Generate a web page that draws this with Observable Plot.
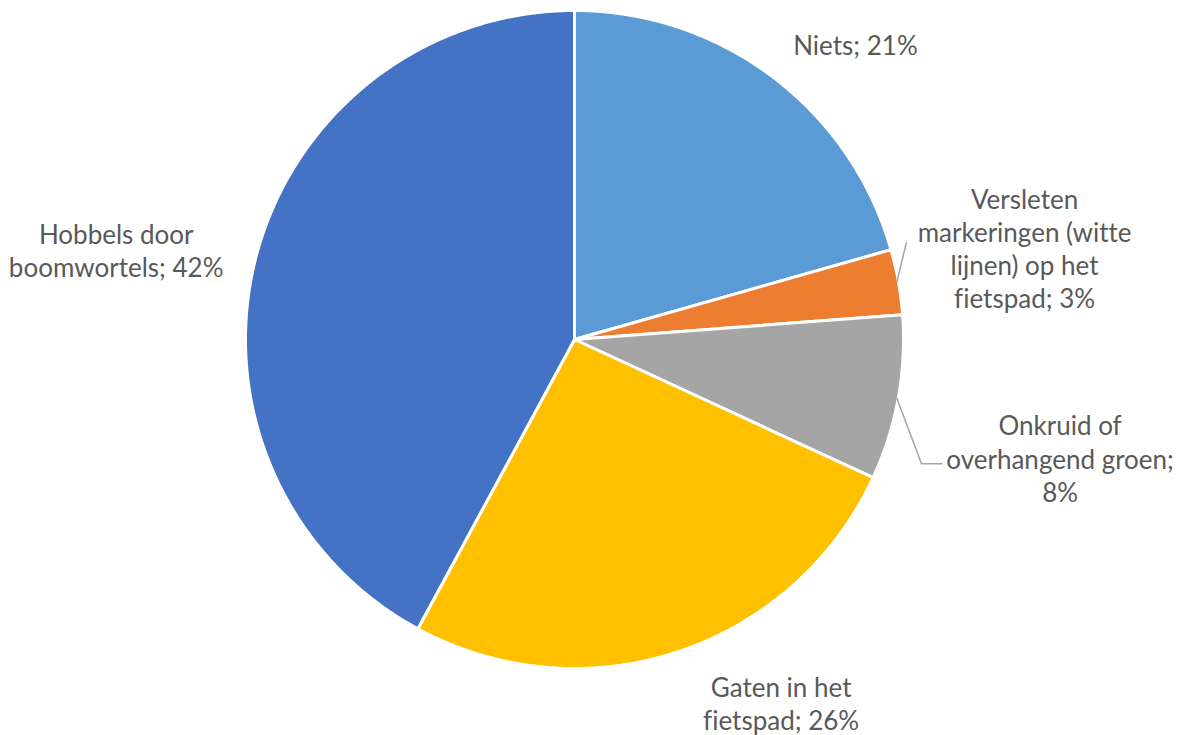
<!DOCTYPE html>
<html>
<head>
<meta charset="utf-8">
<script src="https://cdn.jsdelivr.net/npm/d3@7"></script>
<script src="https://cdn.jsdelivr.net/npm/@observablehq/plot@0.6"></script>
<style>
  html, body { margin: 0; padding: 0; background: #ffffff; }
  #chart { width: 1191px; height: 735px; }
  #chart svg text { font-variant-ligatures: none; font-feature-settings: "liga" 0, "clig" 0; }
</style>
</head>
<body>
<div id="chart"></div>
<script>
// ---- data ----
const categories = [
  "Niets",
  "Versleten markeringen (witte lijnen) op het fietspad",
  "Onkruid of overhangend groen",
  "Gaten in het fietspad",
  "Hobbels door boomwortels"
];
const values = [20.6, 3.2, 8.1, 26.0, 42.1];
const labelLines = [
  ["Niets; "],
  ["Versleten", "markeringen (witte", "lijnen) op het", "fietspad; "],
  ["Onkruid of", "overhangend groen;", ""],
  ["Gaten in het", "fietspad; "],
  ["Hobbels door", "boomwortels; "]
];
const colors = ["#5B9BD5", "#ED7D31", "#A5A5A5", "#FFC000", "#4472C4"];

// ---- layout (not data) ----
const W = 1191, H = 735;
const R = 329;             // pie radius in px
const CX = 574, CY = 339;  // pie center in px
// label block centres in pie-radius units (x right, y up)
const labelPos = [[0.854, 0.896], [1.368, 0.277], [1.476, -0.360], [0.628, -1.104], [-1.393, 0.271]];
// leader line extra points (after start on slice edge) per slice
const leaderPts = {1: [[1.009, 0.296]], 2: [[1.055, -0.378], [1.119, -0.378]]};

// ---- geometry ----
const total = d3.sum(values);
let acc = 0;
const slices = categories.map((name, i) => {
  const a0 = acc / total * 2 * Math.PI;
  acc += values[i];
  const a1 = acc / total * 2 * Math.PI;
  return {name, i, a0, a1, mid: (a0 + a1) / 2};
});

const polyPts = [];
for (const s of slices) {
  polyPts.push({name: s.name, x: 0, y: 0});
  const n = Math.max(2, Math.ceil((s.a1 - s.a0) / (Math.PI / 360)));
  for (let k = 0; k <= n; k++) {
    const a = s.a0 + (s.a1 - s.a0) * k / n;
    polyPts.push({name: s.name, x: Math.sin(a), y: Math.cos(a)});
  }
  polyPts.push({name: s.name, x: 0, y: 0});
}

const labels = slices.map((s, i) => {
  const lines = labelLines[i].slice();
  const last = lines.length - 1;
  lines[last] = lines[last] + Math.round(values[i]) + "%";
  return {name: s.name, x: labelPos[i][0], y: labelPos[i][1], text: lines.join("\n")};
});

const leaders = [];
for (const key of Object.keys(leaderPts)) {
  const s = slices[+key];
  leaders.push({name: s.name, x: Math.sin(s.mid) * 0.995, y: Math.cos(s.mid) * 0.995});
  for (const p of leaderPts[key]) leaders.push({name: s.name, x: p[0], y: p[1]});
}

const chart = Plot.plot({
  width: W,
  height: H,
  margin: 0,
  style: {background: "#ffffff", fontFamily: "Lato, 'Open Sans', sans-serif"},
  x: {domain: [-CX / R, (W - CX) / R], axis: null},
  y: {domain: [-(H - CY) / R, CY / R], axis: null},
  color: {domain: categories, range: colors},
  marks: [
    Plot.line(polyPts, {x: "x", y: "y", z: "name", fill: "name", stroke: "#ffffff", strokeWidth: 3, strokeLinejoin: "round", curve: "linear"}),
    Plot.line(leaders, {x: "x", y: "y", z: "name", stroke: "#A6A6A6", strokeWidth: 1.5, strokeLinejoin: "miter", strokeLinecap: "butt"}),
    Plot.text(labels, {x: "x", y: "y", text: "text", fontSize: 26, lineHeight: 1.27, fill: "#595959", textAnchor: "middle", lineAnchor: "middle", fontFamily: "Lato"})
  ]
});
document.getElementById("chart").appendChild(chart);
</script>
</body>
</html>
